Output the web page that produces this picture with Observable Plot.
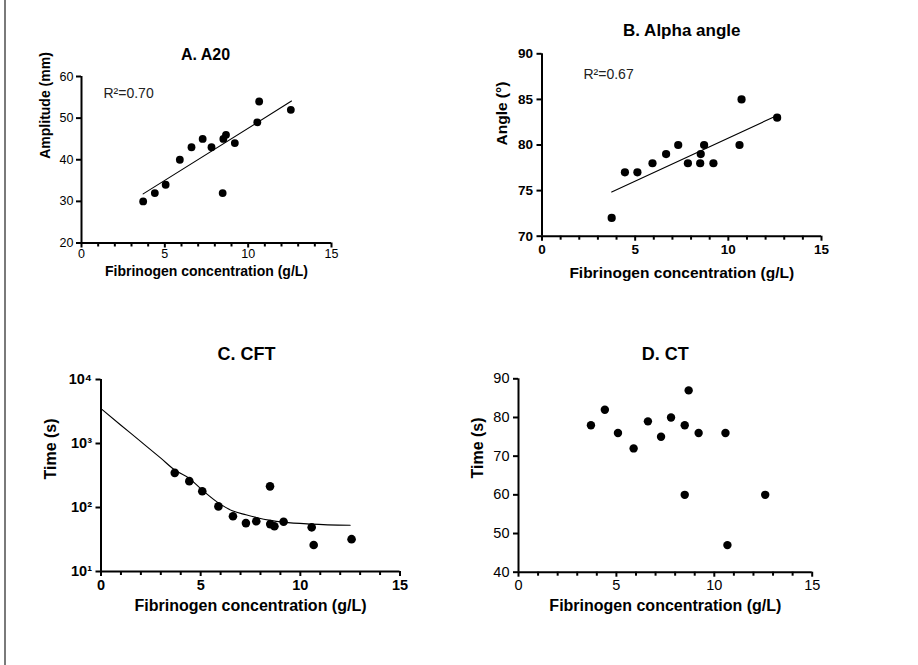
<!DOCTYPE html>
<html>
<head>
<meta charset="utf-8">
<script src="https://cdn.jsdelivr.net/npm/d3@7"></script>
<script src="https://cdn.jsdelivr.net/npm/@observablehq/plot@0.6"></script>
<style>
  html, body { margin: 0; padding: 0; background: #fff; }
  #root { position: relative; width: 918px; height: 665px; overflow: hidden; background: #fff; }
  #edge { position: absolute; left: 4px; top: 0; width: 0; height: 665px; border-left: 2px solid #7a7a7a; }
  .panel { position: absolute; width: 459px; height: 300px; }
  .panel svg { overflow: visible; max-width: none !important; }
</style>
</head>
<body>
<div id="root"><div id="edge"></div></div>
<script>
// ---------- data ----------
const xTicks = [0, 5, 10, 15];
const xMinor = [1, 2, 3, 4, 6, 7, 8, 9, 11, 12, 13, 14];

// A. A20
const xA = [3.7, 4.4, 5.05, 5.9, 6.6, 7.27, 7.8, 8.47, 8.51, 8.67, 9.2, 10.55, 10.66, 12.56];
const yA = [30, 32, 34, 40, 43, 45, 43, 32, 45, 46, 44, 49, 54, 52];
const fitAx = [3.7, 12.6];
const fitAy = [31.8, 54.1];
const yTicksA = [20, 30, 40, 50, 60];

// B. Alpha angle
const xB = [3.74, 4.45, 5.12, 5.93, 6.66, 7.31, 7.83, 8.49, 8.52, 8.7, 9.2, 10.6, 10.71, 12.62];
const yB = [72, 77, 77, 78, 79, 80, 78, 78, 79, 80, 78, 80, 85, 83];
const fitBx = [3.74, 12.62];
const fitBy = [74.85, 83.24];
const yTicksB = [70, 75, 80, 85, 90];

// C. CFT (log scale)
const xC = [3.7, 4.43, 5.08, 5.89, 6.62, 7.27, 7.79, 8.48, 8.49, 8.7, 9.16, 10.57, 10.67, 12.57];
const yC = [348, 258, 179, 104, 73, 57, 61, 214, 55, 51, 60, 49, 26, 32];
const fitCx = [0, 1, 2, 3, 3.7, 4.43, 5.1, 5.89, 6.62, 7.27, 7.79, 8.5, 9.16, 10.57, 12.5];
const fitCy = [3500, 1930, 1070, 590, 385, 284, 185, 118, 88, 77, 70, 63, 59, 55, 52.7];
const yTicksC = [10, 100, 1000, 10000];
const yTickLabelsC = ["10¹", "10²", "10³", "10⁴"];

// D. CT
const xD = [3.7, 4.41, 5.08, 5.88, 6.61, 7.28, 7.79, 8.49, 8.49, 8.69, 9.2, 10.57, 10.67, 12.6];
const yD = [78, 82, 76, 72, 79, 75, 80, 78, 60, 87, 76, 76, 47, 60];
const yTicksD = [40, 50, 60, 70, 80, 90];

const titles = ["A. A20", "B. Alpha angle", "C. CFT", "D. CT"];
const xLabel = "Fibrinogen concentration (g/L)";
const yLabels = ["Amplitude (mm)", "Angle (°)", "Time (s)", "Time (s)"];
const r2Labels = ["R²=0.70", "R²=0.67"];

// ---------- drawing ----------
const FONT = "'Liberation Sans', Arial, Helvetica, sans-serif";
const zip = (xs, ys) => xs.map((x, i) => ({x, y: ys[i]}));

function panel(cfg) {
  const y0 = cfg.yDomain[0];
  const tw = 2;
  const fmtY = cfg.yTickFormat || (d => String(d));
  const marks = [
    // axis lines
    Plot.ruleX([0], {x: d => d, stroke: "black", strokeWidth: 2}),
    Plot.ruleY([y0], {y: d => d, stroke: "black", strokeWidth: 2}),
    // x ticks (major / minor), drawn outward below the axis
    Plot.ruleX(xTicks, {x: d => d, y1: y0, y2: y0, insetBottom: -5, stroke: "black", strokeWidth: tw}),
    Plot.ruleX(xMinor, {x: d => d, y1: y0, y2: y0, insetBottom: -4, stroke: "black", strokeWidth: tw}),
    Plot.text(xTicks, {x: d => d, y: y0, text: d => String(d), lineAnchor: "top", dy: 5 + cfg.xPad,
      fontSize: cfg.tickFont, fontWeight: cfg.tickWeight, fill: "black"}),
    // y ticks, drawn outward left of the axis
    Plot.ruleY(cfg.yTicks, {y: d => d, x1: 0, x2: 0, insetLeft: -5, stroke: "black", strokeWidth: tw}),
    Plot.text(cfg.yTicks, {x: 0, y: d => d, text: fmtY, textAnchor: "end", dx: -(5 + cfg.yPad),
      fontSize: cfg.tickFont, fontWeight: cfg.tickWeight, fill: "black"}),
  ];
  if (cfg.fit) {
    marks.push(Plot.line(cfg.fit, {x: "x", y: "y", stroke: "black", strokeWidth: 1.1,
      curve: cfg.curve || "linear"}));
  }
  marks.push(Plot.dot(cfg.points, {x: "x", y: "y", r: cfg.r, fill: "black", stroke: null}));
  // title
  marks.push(Plot.text([cfg.title], {text: d => d, frameAnchor: "top", dx: cfg.titleDx, dy: cfg.titleDy,
    fontSize: cfg.titleFont, fontWeight: "bold", fill: "black"}));
  // axis labels
  marks.push(Plot.text([xLabel], {text: d => d, frameAnchor: "bottom", dx: cfg.xLabelDx || 0, dy: cfg.xLabelDy,
    fontSize: cfg.labelFont, fontWeight: "bold", fill: "black"}));
  marks.push(Plot.text([cfg.yLabel], {text: d => d, frameAnchor: "left", rotate: -90, dx: cfg.yLabelDx, dy: cfg.yLabelDy,
    fontSize: cfg.yLabelFont || cfg.labelFont, fontWeight: "bold", fill: "black"}));
  if (cfg.r2) {
    marks.push(Plot.text([cfg.r2], {text: d => d, frameAnchor: "top-left", textAnchor: "start",
      dx: cfg.r2Dx, dy: cfg.r2Dy, fontSize: 14, fill: "#222"}));
  }
  const svg = Plot.plot({
    width: 459, height: 300,
    marginLeft: cfg.m[0], marginRight: cfg.m[1], marginTop: cfg.m[2], marginBottom: cfg.m[3],
    style: {fontFamily: FONT, background: "transparent", color: "black", overflow: "visible"},
    x: {domain: [0, 15], axis: null, label: null},
    y: {domain: cfg.yDomain, type: cfg.yType || "linear", axis: null, label: null},
    marks
  });
  const div = document.createElement("div");
  div.className = "panel";
  div.style.left = cfg.left + "px";
  div.style.top = cfg.top + "px";
  div.appendChild(svg);
  document.getElementById("root").appendChild(div);
}

panel({
  left: 0, top: 0, m: [81, 128, 76, 57.5],
  yDomain: [20, 60], yTicks: yTicksA,
  points: zip(xA, yA), fit: zip(fitAx, fitAy), r: 3.9,
  title: titles[0], titleFont: 16, titleDx: -1, titleDy: -28,
  yLabel: yLabels[0], yLabelDx: -36, yLabelDy: -1, yLabelFont: 14,
  labelFont: 14, xLabelDy: 33, xLabelDx: 0,
  tickFont: 12.5, tickWeight: "normal", xPad: 1, yPad: 3,
  r2: r2Labels[0], r2Dx: 22, r2Dy: 12
});

panel({
  left: 459, top: 0, m: [82.5, 97, 53.3, 64.3],
  yDomain: [70, 90], yTicks: yTicksB,
  points: zip(xB, yB), fit: zip(fitBx, fitBy), r: 4.1,
  title: titles[1], titleFont: 17, titleDx: 0, titleDy: -30.3,
  yLabel: yLabels[1], yLabelDx: -39.5, yLabelDy: 0.5,
  labelFont: 15.5, xLabelDy: 41.3,
  tickFont: 13.5, tickWeight: "bold", xPad: 3, yPad: 4,
  r2: r2Labels[1], r2Dx: 41.5, r2Dy: 15
});

panel({
  left: 0, top: 320, m: [100.5, 59.5, 59, 49],
  yDomain: [10, 10000], yType: "log", yTicks: yTicksC,
  yTickFormat: d => yTickLabelsC[yTicksC.indexOf(d)],
  points: zip(xC, yC), fit: zip(fitCx, fitCy), curve: "monotone-x", r: 4.3,
  title: titles[2], titleFont: 18, titleDx: -4, titleDy: -32,
  yLabel: yLabels[2], yLabelDx: -50.5, yLabelDy: 4,
  labelFont: 16, xLabelDy: 39,
  tickFont: 14.5, tickWeight: "bold", xPad: 3, yPad: 4
});

panel({
  left: 459, top: 320, m: [59, 106.3, 58.3, 48.3],
  yDomain: [40, 90], yTicks: yTicksD,
  points: zip(xD, yD), r: 4.2,
  title: titles[3], titleFont: 18, titleDx: 0, titleDy: -31.6,
  yLabel: yLabels[3], yLabelDx: -41, yLabelDy: 3,
  labelFont: 16, xLabelDy: 39,
  tickFont: 14.5, tickWeight: "normal", xPad: 3, yPad: 4
});
</script>
</body>
</html>
